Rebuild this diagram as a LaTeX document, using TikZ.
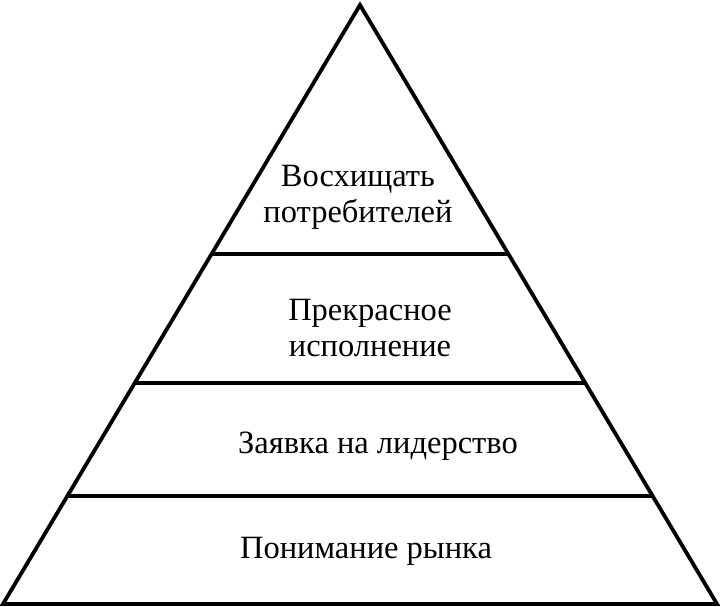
\documentclass[tikz,border=0pt]{standalone}
\usepackage{fontspec}
\setmainfont{Liberation Serif}
\usetikzlibrary{calc}
\tikzset{
  edge/.style={line width=3.8pt, line join=miter},
  tier/.style={line width=3.3pt},
  label/.style={font=\fontsize{32.5}{36}\selectfont, align=center, inner sep=0pt},
}
\begin{document}
\begin{tikzpicture}[x=1pt,y=-1pt]
\useasboundingbox (0,0) rectangle (720,607);
\coordinate (apex) at (360,5);
\coordinate (bl) at (3,604);
\coordinate (br) at (717,604);
\coordinate (l1) at ($(apex)!{(254-5)/599}!(bl)$);
\coordinate (r1) at ($(apex)!{(254-5)/599}!(br)$);
\coordinate (l2) at ($(apex)!{(383-5)/599}!(bl)$);
\coordinate (r2) at ($(apex)!{(383-5)/599}!(br)$);
\coordinate (l3) at ($(apex)!{(496-5)/599}!(bl)$);
\coordinate (r3) at ($(apex)!{(496-5)/599}!(br)$);
\draw[tier] (l1) -- (r1);
\draw[tier] (l2) -- (r2);
\draw[tier] (l3) -- (r3);
\draw[edge] (apex) -- (bl) -- (br) -- cycle;
\node[label] (t1) at (358,197) {Восхищать\\потребителей};
\node[label] (t2) at (370,328) {Прекрасное\\исполнение};
\node[label, anchor=base] (t3) at (378,453) {Заявка на лидерство};
\node[label, anchor=base] (t4) at (366,558) {Понимание рынка};
\end{tikzpicture}
\end{document}
